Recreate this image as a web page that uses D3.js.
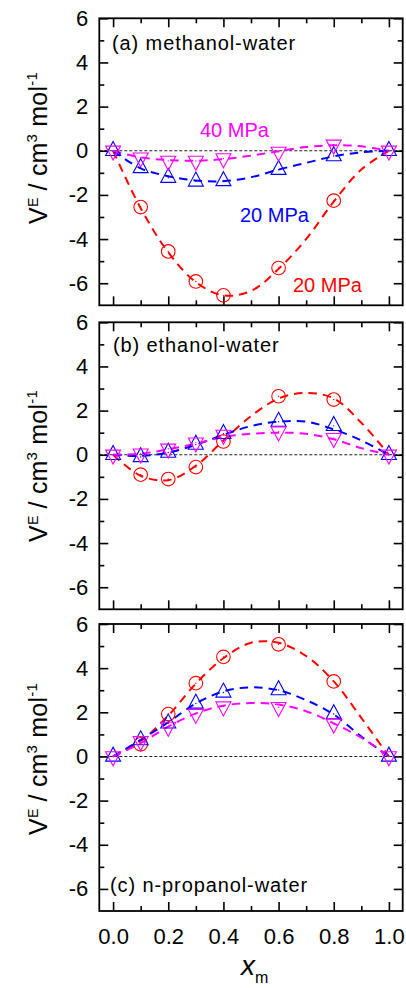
<!DOCTYPE html>
<html>
<head>
<meta charset="utf-8">
<script src="https://cdn.jsdelivr.net/npm/d3@7"></script>
<style>
  html, body { margin: 0; padding: 0; background: #fff; }
  svg { display: block; font-family: "Liberation Sans", Arial, Helvetica, sans-serif; }
</style>
</head>
<body>
<svg id="chart" width="406" height="988"></svg>
<script>
// Excess molar volume V^E of alcohol-water mixtures versus alcohol mole fraction x_m.

// Mole fractions of the measured mixtures
const xMeasured = [0, 0.1, 0.2, 0.3, 0.4, 0.6, 0.8, 1.0];
const xCircle = [0.1, 0.2, 0.3, 0.4, 0.6, 0.8];
// Abscissa of the tabulated fitted curves
const xFit = [0, 0.1, 0.2, 0.3, 0.4, 0.5, 0.6, 0.7, 0.8, 0.9, 1.0];

// (a) methanol-water
const methRed  = [-2.55, -4.56, -5.92, -6.55, -5.31, -2.26];
const methBlue = [0, -0.78, -1.22, -1.39, -1.37, -0.86, -0.24, 0];
const methMag  = [0, -0.31, -0.46, -0.46, -0.35, -0.05, 0.27, 0];
const methRedFit  = [0, -2.6, -4.6, -5.95, -6.55, -6.35, -5.35, -4.0, -2.3, -0.85, 0];
const methBlueFit = [0, -0.8, -1.15, -1.35, -1.38, -1.2, -0.85, -0.55, -0.25, -0.07, 0];
const methMagFit  = [0, -0.3, -0.42, -0.45, -0.38, -0.22, -0.02, 0.17, 0.25, 0.2, 0];

// (b) ethanol-water
const ethRed  = [-0.9, -1.1, -0.56, 0.6, 2.65, 2.5];
const ethBlue = [0, -0.1, 0.1, 0.46, 0.95, 1.5, 1.31, 0];
const ethMag  = [0, 0.05, 0.27, 0.55, 0.9, 1.05, 0.75, 0];
const ethRedFit  = [0, -0.95, -1.15, -0.5, 0.65, 1.75, 2.55, 2.8, 2.55, 1.45, 0];
const ethBlueFit = [0, -0.05, 0.1, 0.45, 0.9, 1.3, 1.5, 1.5, 1.15, 0.65, 0];
const ethMagFit  = [0, 0.05, 0.25, 0.5, 0.8, 0.95, 1.0, 0.95, 0.7, 0.3, 0];

// (c) n-propanol-water
const propRed  = [0.55, 1.92, 3.32, 4.51, 5.08, 3.4];
const propBlue = [0, 0.74, 1.5, 2.4, 2.9, 3.01, 1.92, 0];
const propMag  = [0, 0.69, 1.34, 1.92, 2.26, 2.23, 1.48, 0];
const propRedFit  = [0, 0.7, 1.85, 3.3, 4.45, 5.15, 5.15, 4.55, 3.4, 1.75, 0];
const propBlueFit = [0, 0.75, 1.55, 2.4, 2.95, 3.13, 3.0, 2.55, 1.9, 0.9, 0];
const propMagFit  = [0, 0.6, 1.35, 1.95, 2.3, 2.42, 2.35, 2.05, 1.5, 0.85, 0];

// Axis ticks
const yMajor = [-6, -4, -2, 0, 2, 4, 6];
const yMinor = [-5, -3, -1, 1, 3, 5];
const xMajor = [0, 0.2, 0.4, 0.6, 0.8, 1.0];
const xMinor = [0.1, 0.3, 0.5, 0.7, 0.9];

const panelTitles = ["(a) methanol-water", "(b) ethanol-water", "(c) n-propanol-water"];

const RED = "#ff0000", BLUE = "#0000ff", MAG = "#ff00ff";

const panels = [
  { title: panelTitles[0], red: methRed, blue: methBlue, mag: methMag,
    redFit: methRedFit, blueFit: methBlueFit, magFit: methMagFit },
  { title: panelTitles[1], red: ethRed, blue: ethBlue, mag: ethMag,
    redFit: ethRedFit, blueFit: ethBlueFit, magFit: ethMagFit },
  { title: panelTitles[2], red: propRed, blue: propBlue, mag: propMag,
    redFit: propRedFit, blueFit: propBlueFit, magFit: propMagFit }
];

// Layout
const svg = d3.select("#chart");
const left = 99.3, right = 402.7;
const tops = [18.3, 322.3, 624];
const panelH = 287;
const titlePos = [{ x: 112, y: 50 }, { x: 113, y: 352 }, { x: 110, y: 891.5 }];
const yLabelCenter = [148, 466, 759];

const x = d3.scaleLinear().domain([-0.05, 1.05]).range([left, right]);

const MAJ = 9, MIN = 5;

// open triangle with its centroid on the data point
const TW = 15, TH = 14;
const triPath = `M0,${-2 * TH / 3}L${TW / 2},${TH / 3}L${-TW / 2},${TH / 3}Z`;

panels.forEach((p, i) => {
  const top = tops[i], bottom = top + panelH;
  const y = d3.scaleLinear().domain([-7, 6]).range([bottom, top]);
  const g = svg.append("g");

  // zero reference line
  g.append("line")
    .attr("x1", left).attr("x2", right)
    .attr("y1", y(0)).attr("y2", y(0))
    .attr("stroke", "#222").attr("stroke-width", 1.1)
    .attr("stroke-dasharray", "3,2");

  // inward ticks on all four sides
  const addAxis = (axis, tx, ty) => {
    const a = g.append("g").attr("transform", `translate(${tx},${ty})`).call(axis);
    a.select(".domain").remove();
    a.selectAll(".tick line").attr("stroke", "#000").attr("stroke-width", 1.6);
    return a;
  };
  const yl = addAxis(d3.axisLeft(y).tickValues(yMajor).tickSize(-MAJ).tickPadding(11)
    .tickFormat(d => String(d)), left, 0);
  yl.selectAll("text").attr("fill", "#000").style("font-size", "22px")
    .attr("font-family", "Liberation Sans, Arial, sans-serif");
  addAxis(d3.axisLeft(y).tickValues(yMinor).tickSize(-MIN).tickFormat(""), left, 0);
  addAxis(d3.axisRight(y).tickValues(yMajor).tickSize(-MAJ).tickFormat(""), right, 0);
  addAxis(d3.axisRight(y).tickValues(yMinor).tickSize(-MIN).tickFormat(""), right, 0);
  addAxis(d3.axisTop(x).tickValues(xMajor).tickSize(-MAJ).tickFormat(""), 0, top);
  addAxis(d3.axisTop(x).tickValues(xMinor).tickSize(-MIN).tickFormat(""), 0, top);
  const xb = addAxis(d3.axisBottom(x).tickValues(xMajor).tickSize(-MAJ).tickPadding(17)
    .tickFormat(i === 2 ? d3.format(".1f") : ""), 0, bottom);
  xb.selectAll("text").attr("fill", "#000").style("font-size", "22px")
    .attr("font-family", "Liberation Sans, Arial, sans-serif");
  addAxis(d3.axisBottom(x).tickValues(xMinor).tickSize(-MIN).tickFormat(""), 0, bottom);

  // frame
  g.append("rect")
    .attr("x", left).attr("y", top)
    .attr("width", right - left).attr("height", panelH)
    .attr("fill", "none").attr("stroke", "#000").attr("stroke-width", 1.8);

  // fitted curves
  const line = d3.line()
    .x((d, k) => x(xFit[k]))
    .y(d => y(d))
    .curve(d3.curveCatmullRom.alpha(0.5));
  [[p.redFit, RED], [p.blueFit, BLUE], [p.magFit, MAG]].forEach(([vals, c]) => {
    g.append("path").attr("d", line(vals))
      .attr("fill", "none").attr("stroke", c).attr("stroke-width", 2)
      .attr("stroke-dasharray", "8.5,6");
  });

  // symbols
  const ptsRed = p.red.map((v, k) => [xCircle[k], v]);
  const ptsBlue = p.blue.map((v, k) => [xMeasured[k], v]);
  const ptsMag = p.mag.map((v, k) => [xMeasured[k], v]);

  g.selectAll(null).data(ptsRed).enter().append("circle")
    .attr("cx", d => x(d[0])).attr("cy", d => y(d[1])).attr("r", 6.8)
    .attr("fill", "none").attr("stroke", RED).attr("stroke-width", 1.1);
  g.selectAll(null).data(ptsBlue).enter().append("path")
    .attr("d", triPath)
    .attr("transform", d => `translate(${x(d[0])},${y(d[1])})`)
    .attr("fill", "none").attr("stroke", BLUE).attr("stroke-width", 1.1);
  g.selectAll(null).data(ptsMag).enter().append("path")
    .attr("d", triPath)
    .attr("transform", d => `translate(${x(d[0])},${y(d[1])}) rotate(180)`)
    .attr("fill", "none").attr("stroke", MAG).attr("stroke-width", 1.1);
  // centre dots
  [[ptsRed, RED], [ptsBlue, BLUE], [ptsMag, MAG]].forEach(([pts, c]) => {
    g.selectAll(null).data(pts).enter().append("circle")
      .attr("cx", d => x(d[0])).attr("cy", d => y(d[1])).attr("r", 0.7)
      .attr("fill", c);
  });

  // panel title
  g.append("text")
    .attr("x", titlePos[i].x).attr("y", titlePos[i].y)
    .style("font-size", "20px").style("letter-spacing", "0.9px")
    .attr("fill", "#000").text(p.title);

  // y-axis title
  const t = g.append("text")
    .attr("transform", `translate(47,${yLabelCenter[i]}) rotate(-90)`)
    .attr("text-anchor", "middle").attr("fill", "#000")
    .style("font-size", "25px").style("letter-spacing", "0.2px");
  t.append("tspan").text("V");
  t.append("tspan").attr("dy", -9).style("font-size", "14px").text("E");
  t.append("tspan").attr("dy", 9).text(" / cm");
  t.append("tspan").attr("dy", -10).style("font-size", "15px").text("3");
  t.append("tspan").attr("dy", 10).text(" mol");
  t.append("tspan").attr("dy", -10).style("font-size", "15px").text("-1");
});

// pressure labels in panel (a)
const pressLabels = [
  { text: "40 MPa", color: MAG, x: 200, y: 137 },
  { text: "20 MPa", color: BLUE, x: 240, y: 221.5 },
  { text: "20 MPa", color: RED, x: 293, y: 291.5 }
];
svg.selectAll(null).data(pressLabels).enter().append("text")
  .attr("x", d => d.x).attr("y", d => d.y)
  .attr("fill", d => d.color).style("font-size", "20px")
  .text(d => d.text);

// x-axis title
const xt = svg.append("text")
  .attr("x", 241).attr("y", 975).attr("fill", "#000");
xt.append("tspan").style("font-size", "28px").style("font-style", "italic").text("x");
xt.append("tspan").attr("dy", 8).style("font-size", "16px").text("m");
</script>
</body>
</html>
